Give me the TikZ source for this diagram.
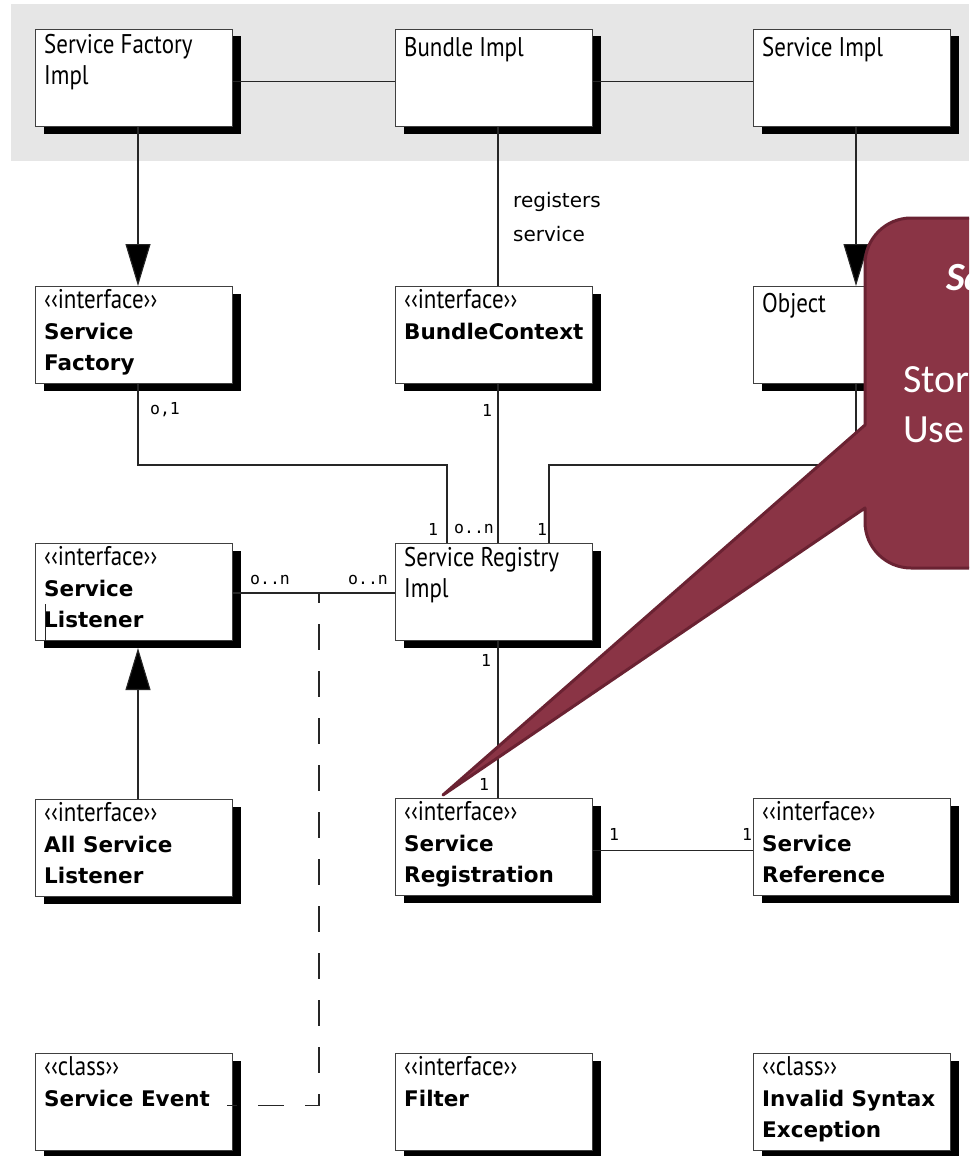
\documentclass[tikz,border=0pt]{standalone}
\usepackage{fontspec}
\usetikzlibrary{arrows.meta,shadows,calc}

\newfontfamily\headfamily[FakeStretch=0.85]{PT Sans}
\newfontfamily\namefamily{DejaVu Sans}
\newfontfamily\multfamily{DejaVu Sans Mono}
\newfontfamily\notefamily{DejaVu Sans}
\newfontfamily\callfamily{Carlito}

\newcommand\boxhead{\headfamily\fontsize{27}{31}\selectfont}
\newcommand\boxname{\namefamily\bfseries\fontsize{21.5}{31}\selectfont}

\definecolor{bandgray}{HTML}{E6E6E6}
\definecolor{ink}{HTML}{262626}
\definecolor{wine}{HTML}{8A3445}
\definecolor{wineedge}{HTML}{6A2232}

\tikzset{
  classbox/.style={draw=black!75, line width=1pt, fill=white, anchor=north west,
    minimum width=197pt, minimum height=97pt, inner sep=0pt,
    drop shadow={shadow xshift=8pt, shadow yshift=-7pt, fill=black, opacity=1}},
  % the first baseline sits 22pt below the node's top edge
  boxtext/.style={anchor=north west, align=left, inner sep=0pt, font=\boxhead,
    execute at begin node={\rule{0pt}{22pt}}},
  conn/.style={draw=ink, line width=1.1pt},
  assocdash/.style={conn, dash pattern=on 26pt off 21pt, dash phase=16pt},
  tri/.style={-{Triangle[length=42pt,width=25pt,fill=black]}},
  mult/.style={inner sep=0pt, font=\multfamily\fontsize{16.5}{16.5}\selectfont},
  note/.style={anchor=north west, align=left, inner sep=0pt,
    font=\notefamily\fontsize{20}{34}\selectfont,
    execute at begin node={\rule{0pt}{20pt}}},
  calltext/.style={anchor=base west, inner sep=0pt, text=white,
    font=\callfamily\fontsize{40}{48}\selectfont},
}

\begin{document}
\begin{tikzpicture}[x=1pt, y=-1pt]
\useasboundingbox (0,0) rectangle (969,1156);
\clip (0,0) rectangle (969,1156);

% implementation band
\fill[bandgray] (11,4) rectangle (969,161);

% class boxes
\node[classbox] (sfi)  at (35,29)    {};
\node[classbox] (bi)   at (395,29)   {};
\node[classbox] (si)   at (753,29)   {};
\node[classbox] (sf)   at (35,286)   {};
\node[classbox] (bc)   at (395,286)  {};
\node[classbox] (obj)  at (753,286)  {};
\node[classbox] (sl)   at (35,543)   {};
\node[classbox] (sr)   at (395,543)  {};
\node[classbox] (asl)  at (35,799)   {};
\node[classbox] (sreg) at (395,798)  {};
\node[classbox] (sref) at (753,798)  {};
\node[classbox] (se)   at (35,1053)  {};
\node[classbox] (flt)  at (395,1053) {};
\node[classbox] (ise)  at (753,1053) {};

% box titles
\node[boxtext] (sfi-t)  at ([xshift=9pt,yshift=-5pt]sfi.north west)  {Service Factory\\Impl};
\node[boxtext] (bi-t)   at ([xshift=9pt,yshift=-5pt]bi.north west)   {Bundle Impl};
\node[boxtext] (si-t)   at ([xshift=9pt,yshift=-5pt]si.north west)   {Service Impl};
\node[boxtext] (sf-t)   at ([xshift=9pt,yshift=-3pt]sf.north west)   {‹‹interface››\\{\boxname Service}\\{\boxname Factory}};
\node[boxtext] (bc-t)   at ([xshift=9pt,yshift=-3pt]bc.north west)   {‹‹interface››\\{\boxname BundleContext}};
\node[boxtext] (obj-t)  at ([xshift=9pt,yshift=-4pt]obj.north west)  {Object};
\node[boxtext] (sl-t)   at ([xshift=9pt,yshift=-3pt]sl.north west)   {‹‹interface››\\{\boxname Service}\\{\boxname Listener}};
\node[boxtext] (sr-t)   at ([xshift=9pt,yshift=-4pt]sr.north west)   {Service Registry\\Impl};
\node[boxtext] (asl-t)  at ([xshift=9pt,yshift=-3pt]asl.north west)  {‹‹interface››\\{\boxname All Service}\\{\boxname Listener}};
\node[boxtext] (sreg-t) at ([xshift=9pt,yshift=-3pt]sreg.north west) {‹‹interface››\\{\boxname Service}\\{\boxname Registration}};
\node[boxtext] (sref-t) at ([xshift=9pt,yshift=-3pt]sref.north west) {‹‹interface››\\{\boxname Service}\\{\boxname Reference}};
\node[boxtext] (se-t)   at ([xshift=9pt,yshift=-3pt]se.north west)   {‹‹class››\\{\boxname Service Event}};
\node[boxtext] (flt-t)  at ([xshift=9pt,yshift=-3pt]flt.north west)  {‹‹interface››\\{\boxname Filter}};
\node[boxtext] (ise-t)  at ([xshift=9pt,yshift=-3pt]ise.north west)  {‹‹class››\\{\boxname Invalid Syntax}\\{\boxname Exception}};

% stray stroke inside the listener box
\draw[conn, line width=1pt] ([xshift=10pt,yshift=37pt]sl.south west) -- ([xshift=10pt]sl.south west);

% implementation row associations
\draw[conn] ([yshift=-3.5pt]sfi.east) -- ([yshift=-3.5pt]bi.west);
\draw[conn] ([yshift=-3.5pt]bi.east) -- ([yshift=-3.5pt]si.west);

% realisations
\draw[conn, tri] ([xshift=4pt]sfi.south) -- ([xshift=4pt]sf.north);
\draw[conn, tri] ([xshift=4pt]si.south) -- ([xshift=4pt]obj.north);
\draw[conn, tri] ([xshift=4pt]asl.north) -- ([xshift=4pt,yshift=-7pt]sl.south);

% bundle registers service
\draw[conn] ([xshift=4pt]bi.south) -- ([xshift=4pt]bc.north);
\node[note] (reg) at (513,192) {registers\\service};

% registry associations
\draw[conn] ([xshift=4pt]sf.south) |- ([xshift=-47pt,yshift=78pt]sr.north) -- ([xshift=-47pt]sr.north);
\draw[conn] ([xshift=4pt]bc.south) -- ([xshift=4pt]sr.north);
\draw[conn] ([xshift=4pt]obj.south) |- ([xshift=55pt,yshift=78pt]sr.north) -- ([xshift=55pt]sr.north);
\draw[conn] ([yshift=-1pt]sl.east) -- ([yshift=-1pt]sr.west);
\coordinate (tap) at ([xshift=86pt,yshift=-1pt]sl.east);
\draw[assocdash] (tap) |- ([xshift=-6pt,yshift=-3.5pt]se.east);
\draw[conn] ([xshift=4pt]sr.south) -- ([xshift=4pt]sreg.north);
\draw[conn] ([yshift=-3.5pt]sreg.east) -- ([yshift=-3.5pt]sref.west);

% multiplicities
\node[mult] (m1)  at (165,410) {o,1};
\node[mult] (m2)  at (487,410) {1};
\node[mult] (m3)  at (433,529) {1};
\node[mult] (m4)  at (474,529) {o..n};
\node[mult] (m5)  at (542,529) {1};
\node[mult] (m6)  at (270,580) {o..n};
\node[mult] (m7)  at (368,580) {o..n};
\node[mult] (m8)  at (486,660) {1};
\node[mult] (m9)  at (484,784) {1};
\node[mult] (m10) at (614,834) {1};
\node[mult] (m11) at (747,834) {1};

% callout
\draw[fill=wine, draw=wineedge, line width=3pt, line join=round]
  (1100,218) -- (911,218) arc (90:180:46pt) -- (865,425) -- (443,795)
  -- (865,508) -- (865,522) arc (180:270:46pt) -- (1100,568) -- cycle;
\node[calltext] (call-h) at (946,290) {\bfseries\itshape Sa};
\node[calltext] (call-1) at (903,392) {Stor};
\node[calltext] (call-2) at (903,442) {Use};
\end{tikzpicture}
\end{document}
